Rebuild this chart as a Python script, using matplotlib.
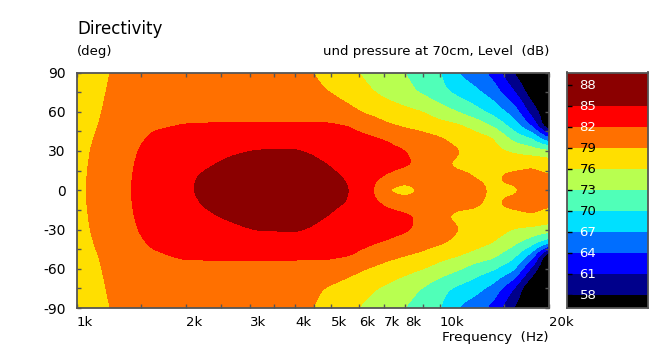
import numpy as np
import matplotlib
matplotlib.use("Agg")
import matplotlib.pyplot as plt

plt.rcParams['font.family'] = ['DejaVu Sans']

# Frequences (Hz) et angles (deg) de la grille
freqs = [1000, 1250, 1400, 1600, 2000, 2500, 3150, 4000, 5000, 5600, 6300,
         7100, 8000, 9000, 10000, 11200, 12500, 14000, 16000, 18000, 20000]
angles = [90, 75, 60, 50, 40, 30, 20, 10, 0, -10, -20, -30, -40, -50, -60, -75, -90]

# Niveau (dB), une ligne par angle
level_p90 = [77.5, 79.1, 79.5, 79.9, 80.0, 80.2, 80.3, 79.9, 78.1, 76.7, 75.4, 74.2, 73.0, 71.6, 70.2, 66.9, 65.2, 63.1, 57.8, 54, 52]
level_p75 = [77.6, 79.3, 79.7, 80.1, 80.3, 80.5, 80.6, 80.3, 78.9, 77.8, 76.5, 75.2, 73.9, 72.5, 70.9, 69.2, 67.7, 65.6, 61.3, 56, 53]
level_p60 = [77.8, 79.5, 80.0, 80.6, 81.0, 81.0, 81.0, 81.0, 80.8, 79.8, 78.5, 77.65, 76.8, 76.0, 74.5, 72.9, 71.1, 69.0, 65.6, 59.5, 55]
level_p50 = [77.9, 79.7, 80.5, 81.6, 82.1, 82.2, 82.25, 82.25, 82.2, 81.9, 80.8, 79.3, 78.45, 77.7, 77.0, 76.3, 74.8, 72.5, 68.4, 63.1, 54]
level_p40 = [78.0, 80.1, 81.0, 82.3, 83.0, 83.6, 84.1, 84.1, 83.5, 82.9, 82.4, 81.8, 80.9, 80.0, 79.2, 78.2, 77.2, 76.2, 71.9, 69.7, 63.9]
level_p30 = [78.1, 80.5, 81.4, 83.0, 83.9, 84.7, 85.1, 85.15, 84.5, 83.9, 83.3, 82.7, 82.1, 81.0, 80.1, 79.2, 78.1, 76.9, 75.5, 74.4, 73.9]
level_p20 = [78.2, 80.7, 81.7, 83.2, 84.4, 85.1, 85.7, 85.7, 84.9, 84.2, 83.6, 83.0, 82.4, 81.5, 79.4, 78.6, 78.6, 78.5, 78.2, 78.6, 77.6]
level_p10 = [78.3, 80.8, 81.85, 83.3, 84.7, 85.7, 86.0, 86.0, 85.4, 84.8, 83.2, 81.7, 80.6, 80.6, 80.2, 79.5, 78.95, 78.7, 79.6, 79.9, 79.4]
level_000 = [78.4, 80.7, 81.9, 83.4, 84.8, 85.8, 86.3, 86.2, 85.6, 85.1, 83.4, 78.8, 77.6, 79.5, 80.0, 79.9, 79.5, 78.75, 78.6, 79.9, 79.7]
level_m10 = [78.3, 80.8, 81.85, 83.3, 84.6, 85.6, 86.0, 86.0, 85.4, 84.9, 83.2, 81.6, 80.6, 80.6, 80.2, 79.6, 79.2, 78.7, 79.6, 80.0, 79.5]
level_m20 = [78.2, 80.7, 81.7, 83.2, 84.3, 85.05, 85.7, 85.7, 84.9, 84.1, 83.6, 83.0, 82.5, 81.5, 79.4, 78.5, 78.6, 78.4, 78.3, 78.7, 77.8]
level_m30 = [78.1, 80.5, 81.4, 83.0, 83.8, 84.5, 85.1, 85.2, 84.5, 84.0, 83.6, 82.9, 82.4, 81.3, 80.3, 79.1, 78.2, 77.5, 75.8, 75.2, 74.5]
level_m40 = [78.0, 80.1, 81.0, 82.3, 83.0, 83.6, 84.0, 84.1, 83.6, 82.9, 82.4, 81.8, 81.0, 80.1, 79.4, 78.4, 77.2, 76.0, 73.7, 71.2, 67.8]
level_m50 = [77.9, 79.7, 80.5, 81.6, 82.4, 82.4, 82.4, 82.4, 82.4, 82.15, 81.2, 79.9, 79.05, 78.3, 77.1, 76.1, 74.9, 73.7, 70.8, 65.5, 54]
level_m60 = [77.8, 79.5, 80.0, 80.7, 81.2, 81.2, 81.2, 81.2, 80.9, 80.0, 78.95, 77.9, 77.0, 76.0, 74.7, 73.4, 71.6, 70.4, 67.6, 60.0, 53]
level_m75 = [77.6, 79.3, 79.7, 80.1, 80.3, 80.5, 80.6, 80.4, 78.6, 77.7, 76.6, 75.5, 74.2, 72.8, 71.0, 69.4, 68.1, 66.0, 61.0, 54, 52]
level_m90 = [77.5, 79.1, 79.5, 79.9, 80.0, 80.2, 80.3, 79.9, 78.1, 76.7, 75.4, 74.2, 73.0, 71.6, 70.2, 66.9, 65.2, 63.1, 57.8, 54, 52]

levels = np.array([level_p90, level_p75, level_p60, level_p50, level_p40, level_p30,
                   level_p20, level_p10, level_000, level_m10, level_m20, level_m30,
                   level_m40, level_m50, level_m60, level_m75, level_m90])

# Bandes de couleur
band_edges = [20, 58, 61, 64, 67, 70, 73, 76, 79, 82, 85, 110]
band_colors = ['#000000', '#00008b', '#0000ff', '#006eff', '#00e0ff', '#50ffb8',
               '#b8ff50', '#ffdf00', '#ff7000', '#ff0000', '#8b0000']
bar_ticks = [58, 61, 64, 67, 70, 73, 76, 79, 82, 85, 88]
bar_text_colors = ['white', 'white', 'white', 'white', 'black', 'black', 'black', 'black', 'white', 'white', 'white']
bar_tick_colors = ['#909090', '#a0a030', '#b09020', '#b0b030', '#e04020', '#e04020',
                   '#2040ff', '#808080', '#20a0a0', '#408080', '#20a0a0']

x_ticks = [1000, 2000, 3000, 4000, 5000, 6000, 7000, 8000, 10000, 20000]
x_labels = ['1k', '2k', '3k', '4k', '5k', '6k', '7k', '8k', '10k', '20k']
x_minor = [1500, 2500, 3500, 4500, 9000, 15000]
y_ticks = [90, 60, 30, 0, -30, -60, -90]
y_labels = ['90', '60', '30', '0', '-30', '-60', '-90']
y_minor = [75, 45, 15, -15, -45, -75]


def smooth_grid(z, n_x=473, n_y=236, sigma=3.0):
    # Passe sur une grille fine (un point par pixel) puis adoucit les angles
    fx = np.linspace(np.log10(freqs[0]), np.log10(freqs[-1]), n_x)
    fy = np.linspace(-90, 90, n_y)
    by_col = np.array([np.interp(fx, np.log10(freqs), row) for row in z])
    fine = np.array([np.interp(fy, angles[::-1], col[::-1]) for col in by_col.T]).T
    half = int(3 * sigma)
    kernel = np.exp(-0.5 * (np.arange(-half, half + 1) / sigma) ** 2)
    kernel = kernel / kernel.sum()
    pad = np.pad(fine, half, mode='edge')
    pad = np.apply_along_axis(lambda v: np.convolve(v, kernel, mode='same'), 0, pad)
    pad = np.apply_along_axis(lambda v: np.convolve(v, kernel, mode='same'), 1, pad)
    return 10 ** fx, fy, pad[half:-half, half:-half]


W, H = 666, 351
fig = plt.figure(figsize=(W / 100, H / 100), dpi=100)
ax = fig.add_axes([77 / W, 1 - 308 / H, 472 / W, 235.5 / H])
cax = fig.add_axes([567 / W, 1 - 308 / H, 81 / W, 235.5 / H])

fine_x, fine_y, fine_z = smooth_grid(levels)
ax.contourf(fine_x, fine_y, fine_z, levels=band_edges, colors=band_colors)
ax.set_xscale('log')
ax.set_xlim(1000, 20000)
ax.set_ylim(-90, 90)

axis_grey = '#555555'
ax.set_xticks(x_ticks)
ax.set_xticklabels([])
ax.set_xticks(x_minor, minor=True)
ax.set_xticklabels([], minor=True)
ax.set_yticks(y_ticks)
ax.set_yticklabels(y_labels)
ax.set_yticks(y_minor, minor=True)
ax.tick_params(which='both', direction='in', top=True, right=True, length=3.2,
               width=1, color=axis_grey, labelsize=10, pad=8)
for s in ax.spines.values():
    s.set_color(axis_grey)
    s.set_linewidth(1.3)

for f, lab in zip(x_ticks, x_labels):
    ax.annotate(lab, (f, 0), xycoords=('data', 'axes fraction'), xytext=(0, -5.5),
                textcoords='offset points', ha='left', va='top', fontsize=9.5)

# Barre de couleur
for lo, hi, col in zip(band_edges[:-1], band_edges[1:], band_colors):
    cax.axhspan(lo, hi, color=col, lw=0)
cax.set_ylim(56.15, 89.8)
cax.set_xlim(0, 1)
cax.set_xticks([])
cax.set_yticks(bar_ticks)
cax.set_yticklabels([])
cax.tick_params(axis='y', direction='in', length=3.6, width=1)
for tick, col in zip(cax.yaxis.get_major_ticks(), bar_tick_colors):
    tick.tick1line.set_color(col)
for s in cax.spines.values():
    s.set_color(axis_grey)
    s.set_linewidth(1.3)
for t, col in zip(bar_ticks, bar_text_colors):
    cax.text(0.155, t, str(t), color=col, fontsize=9.5, va='center', ha='left')

fig.text(77 / W, 1 - 29 / H, 'Directivity', fontsize=12, va='center', ha='left')
fig.text(77 / W, 1 - 51 / H, '(deg)', fontsize=9.5, va='center', ha='left')
fig.text(549 / W, 1 - 51 / H, 'und pressure at 70cm, Level  (dB)', fontsize=9.5, va='center', ha='right')
fig.text(549 / W, 1 - 337 / H, 'Frequency  (Hz)', fontsize=9.7, va='center', ha='right')

fig.savefig('out.png', dpi=100, facecolor='white')
